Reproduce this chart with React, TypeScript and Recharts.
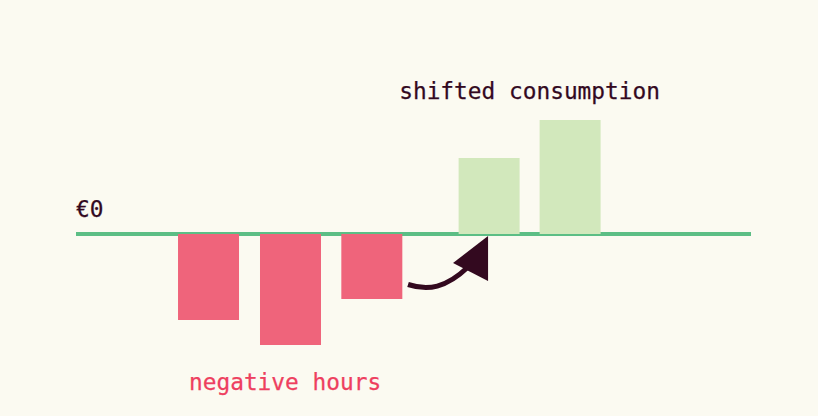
import React from "react";
import { ComposedChart, Bar, Cell, XAxis, YAxis, ReferenceLine, ReferenceDot } from "recharts";

const hours = [1.636, 2.648, 3.652, 5.1, 6.1];
const values = [-86, -111, -65, 76, 114];
const data = hours.map((hour, i) => ({ hour, value: values[i] }));

const FONT = "'DejaVu Sans Mono', monospace";
const INK = "#33091f";

const Note = ({ cx, cy, text, color, size }: any) => (
  <text x={cx} y={cy} fill={color} stroke={color} strokeWidth={0.25} fontFamily={FONT} fontSize={size}>{text}</text>
);

const Arrow = ({ cx, cy }: any) => (
  <g transform={`translate(${cx},${cy})`}>
    <path d="M0 -0.5 C 20 6, 38 3, 60 -18" fill="none" stroke={INK} strokeWidth={5} />
    <path d="M80 -49 L45 -22 L80 -4 Z" fill={INK} />
  </g>
);

export default function App() {
  return (
    <div style={{ position: "fixed", left: 0, top: 0, width: 818, height: 416, background: "#fbfaf1" }}>
      <ComposedChart width={818} height={416} data={data} margin={{ top: 0, right: 67, bottom: 0, left: 76 }}>
        <XAxis hide type="number" dataKey="hour" domain={[0, 8.333]} allowDataOverflow />
        <YAxis hide type="number" domain={[-182, 234]} allowDataOverflow />
        <ReferenceLine y={0} stroke="#5cbe85" strokeWidth={4} zIndex={100} />
        <Bar dataKey="value" barSize={61} isAnimationActive={false} zIndex={300}>
          {values.map((v, i) => (
            <Cell key={i} fill={v < 0 ? "#ef647b" : "#d2e8bc"} />
          ))}
        </Bar>
        <ReferenceDot x={0} y={17.5} r={0} ifOverflow="visible" shape={(p: any) => <Note {...p} text="€0" color={INK} size={22.8} />} />
        <ReferenceDot x={3.99} y={135.5} r={0} ifOverflow="visible" shape={(p: any) => <Note {...p} text="shifted consumption" color={INK} size={22.8} />} />
        <ReferenceDot x={1.395} y={-155.5} r={0} ifOverflow="visible" shape={(p: any) => <Note {...p} text="negative hours" color="#ee3f5f" size={22.8} />} />
        <ReferenceDot x={4.099} y={-51} r={0} ifOverflow="visible" shape={Arrow} />
      </ComposedChart>
    </div>
  );
}
